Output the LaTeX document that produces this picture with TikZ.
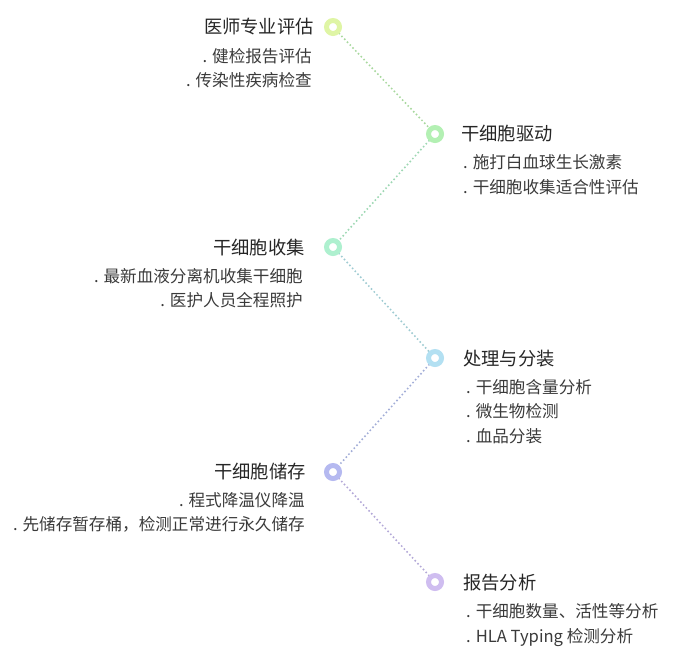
\documentclass[tikz,border=0pt]{standalone}
\usepackage{fontspec}
\newfontfamily\cjk{Noto Sans CJK SC}
\usetikzlibrary{backgrounds}
\definecolor{titlec}{HTML}{262626}
\definecolor{itemc}{HTML}{3A3A3A}
\definecolor{ca}{HTML}{DFF5A5}
\definecolor{cb}{HTML}{B3F0B3}
\definecolor{cc}{HTML}{AEF0CF}
\definecolor{cd}{HTML}{B3E0F2}
\definecolor{ce}{HTML}{B5B9F0}
\definecolor{cf}{HTML}{CFBDF0}
\tikzset{
 ring/.style={circle, minimum size=13pt, inner sep=0pt, line width=5pt, fill=white, draw=#1},
 ttl/.style={font=\cjk\fontsize{18.3}{18}\selectfont, text=titlec, inner sep=0pt, text height=16.1pt, text depth=2.2pt},
 itm/.style={font=\cjk\fontsize{16.6}{16}\selectfont, text=itemc, inner sep=0pt, text height=14.6pt, text depth=2pt},
 link/.style={draw=#1, line width=2.2pt, line cap=round, dash pattern=on 0pt off 4pt},
}
\begin{document}
\begin{tikzpicture}[x=1pt,y=-1pt]
\useasboundingbox (0,0) rectangle (674,662);
\node[ring=ca] (c1) at (333,27) {};
\node[ring=cb] (c2) at (435,134) {};
\node[ring=cc] (c3) at (333,247) {};
\node[ring=cd] (c4) at (435,358) {};
\node[ring=ce] (c5) at (333,472) {};
\node[ring=cf] (c6) at (435,582) {};
\begin{scope}[on background layer]
\draw[link=ca!30!cb!85!black!70!cb] (c1) -- (c2);
\draw[link=cb!40!cc!85!black!70!cc] (c2) -- (c3);
\draw[link=cc!30!cd!85!black!70!cd] (c3) -- (c4);
\draw[link=cd!30!ce!85!black!70!ce] (c4) -- (c5);
\draw[link=ce!40!cf!85!black!70!cf] (c5) -- (c6);
\end{scope}
% left side
\node[ttl, anchor=east] (t1) at (314,27) {医师专业评估};
\node[itm, anchor=east] (b11) at (312,56) {. 健检报告评估};
\node[itm, anchor=east] (b12) at (312,80) {. 传染性疾病检查};
\node[ttl, anchor=east] (t3) at (305,248) {干细胞收集};
\node[itm, anchor=east] (b31) at (303,276) {. 最新血液分离机收集干细胞};
\node[itm, anchor=east] (b32) at (303,300) {. 医护人员全程照护};
\node[ttl, anchor=east] (t5) at (306,472) {干细胞储存};
\node[itm, anchor=east] (b51) at (305,500) {. 程式降温仪降温};
\node[itm, anchor=east] (b52) at (305,524) {. 先储存暂存桶，检测正常进行永久储存};
% right side
\node[ttl, anchor=west] (t2) at (461,134) {干细胞驱动};
\node[itm, anchor=west] (b21) at (463,162) {. 施打白血球生长激素};
\node[itm, anchor=west] (b22) at (463,187) {. 干细胞收集适合性评估};
\node[ttl, anchor=west] (t4) at (463,359) {处理与分装};
\node[itm, anchor=west] (b41) at (466,387) {. 干细胞含量分析};
\node[itm, anchor=west] (b42) at (466,411) {. 微生物检测};
\node[itm, anchor=west] (b43) at (466,436) {. 血品分装};
\node[ttl, anchor=west] (t6) at (463,583) {报告分析};
\node[itm, anchor=west] (b61) at (466,611) {. 干细胞数量、活性等分析};
\node[itm, anchor=west] (b62) at (466,636) {. HLA Typing 检测分析};
\end{tikzpicture}
\end{document}
